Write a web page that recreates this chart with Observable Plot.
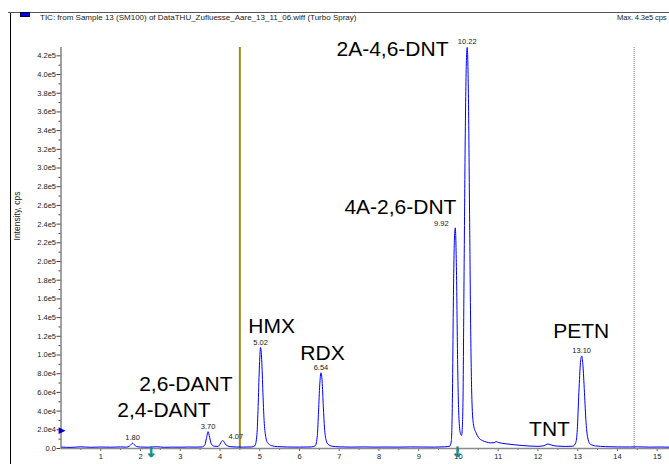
<!DOCTYPE html>
<html>
<head>
<meta charset="utf-8">
<script src="https://cdn.jsdelivr.net/npm/d3@7"></script>
<script src="https://cdn.jsdelivr.net/npm/@observablehq/plot@0.6"></script>
<style>
  html, body { margin: 0; padding: 0; background: #fff; }
  #wrap { position: relative; width: 669px; height: 464px; overflow: hidden; font-family: "Liberation Sans", Arial, sans-serif; }
  #wrap svg { position: absolute; left: 0; top: 0; }
  .ov { position: absolute; }
</style>
</head>
<body>
<div id="wrap"></div>
<script>
// ---- chromatogram trace (retention time in min, intensity in cps) ----
const times = [
  0.02, 0.25, 0.5, 0.75, 1.0, 1.25, 1.5, 1.65, 1.72, 1.77, 1.80, 1.84, 1.9, 2.0, 2.2, 2.4, 2.6, 2.8,
  3.0, 3.2, 3.4, 3.55, 3.62, 3.66, 3.70, 3.74, 3.78, 3.85, 3.95, 4.0, 4.04, 4.07, 4.11, 4.16, 4.25,
  4.4, 4.6, 4.8, 4.88, 4.93, 4.96, 4.99, 5.02, 5.05, 5.08, 5.11, 5.15, 5.2, 5.3, 5.45, 5.7, 6.0, 6.3,
  6.40, 6.45, 6.48, 6.51, 6.54, 6.57, 6.60, 6.63, 6.67, 6.72, 6.82, 7.0, 7.3, 7.6, 7.9, 8.2, 8.5, 8.8,
  9.1, 9.4, 9.65, 9.78, 9.82, 9.85, 9.87, 9.90, 9.92, 9.95, 9.98, 10.01, 10.05, 10.08, 10.11, 10.14,
  10.17, 10.20, 10.22, 10.25, 10.28, 10.31, 10.34, 10.38, 10.44, 10.5, 10.6, 10.7, 10.8, 10.9, 10.95,
  11.0, 11.2, 11.4, 11.6, 11.8, 12.0, 12.15, 12.25, 12.35, 12.5, 12.7, 12.88, 12.95, 12.99, 13.03,
  13.07, 13.10, 13.13, 13.17, 13.21, 13.26, 13.32, 13.45, 13.7, 14.0, 14.3, 14.5, 14.8, 15.1, 15.3
];
const intensity = [
  1500, 1200, 1800, 1300, 1600, 1400, 1700, 1500, 2500, 4500, 5700, 4200, 2200, 1600, 1400, 1900, 1300, 1500,
  1400, 1600, 1500, 1700, 4000, 11000, 18000, 12000, 5000, 2500, 2200, 4500, 7500, 8500, 6500, 3500, 2000,
  1600, 1500, 1700, 3000, 15000, 45000, 85000, 108000, 95000, 60000, 30000, 13000, 6000, 3000, 2000, 1600, 1500, 1700,
  3000, 14000, 40000, 68000, 81000, 72000, 45000, 22000, 9000, 4500, 2500, 1800, 1500, 1700, 1500, 1600, 1500, 1700,
  1600, 1500, 1800, 2500, 8000, 60000, 150000, 225000, 236000, 190000, 90000, 35000, 16000, 14000, 40000, 180000,
  330000, 415000, 429000, 380000, 250000, 120000, 50000, 25000, 17000, 12000, 8500, 7000, 6000, 6200, 7500,
  6500, 5000, 4000, 3200, 2600, 2300, 3000, 4800, 3500, 2500, 2200, 2500, 6000, 20000, 60000,
  92000, 99000, 90000, 60000, 28000, 10000, 4500, 2800, 2000, 1700, 1600, 1800, 1500, 1600, 1400
];

// ---- peak apex labels ----
const peakTimes   = [1.80, 3.70, 4.07, 5.02, 6.54, 9.92, 10.22, 13.10];
const peakHeights = [5700, 18000, 8500, 108000, 81000, 236000, 429000, 99000];
const peakLabels  = ["1.80", "3.70", "4.07", "5.02", "6.54", "9.92", "10.22", "13.10"];

// ---- compound names (anchored in time / intensity units) ----
const compounds      = ["2,4-DANT", "2,6-DANT", "HMX", "RDX", "4A-2,6-DNT", "2A-4,6-DNT", "TNT", "PETN"];
const compoundTime   = [2.59, 3.14, 5.30, 6.58, 8.54, 8.34, 12.29, 13.09];
const compoundLevel  = [41400, 69200, 131200, 102300, 258500, 427500, 21100, 125900];

// ---- axes ----
const xTicks = [1, 2, 3, 4, 5, 6, 7, 8, 9, 10, 11, 12, 13, 14, 15];
const xMinorTicks = [0.5, 1.5, 2.5, 3.5, 4.5, 5.5, 6.5, 7.5, 8.5, 9.5, 10.5, 11.5, 12.5, 13.5, 14.5];
const yTicks = [0, 20000, 40000, 60000, 80000, 100000, 120000, 140000, 160000, 180000, 200000, 220000,
  240000, 260000, 280000, 300000, 320000, 340000, 360000, 380000, 400000, 420000];
const yMinorTicks = [10000, 30000, 50000, 70000, 90000, 110000, 130000, 150000, 170000, 190000, 210000,
  230000, 250000, 270000, 290000, 310000, 330000, 350000, 370000, 390000, 410000];

// ---- markers ----
const periodStart = [4.5];     // olive vertical line
const periodEnd = [14.42];     // dotted vertical line
const arrowTimes = [2.27, 9.97];
const thresholdLevel = [20000];

const titleText = "TIC: from Sample 13 (SM100) of DataTHU_Zufluesse_Aare_13_11_06.wiff (Turbo Spray)";
const maxText = "Max. 4.3e5 cps";
const yLabel = "Intensity, cps";

const trace = times.map((t, i) => ({t, v: intensity[i]}));
const peaks = peakTimes.map((t, i) => ({t, v: peakHeights[i], label: peakLabels[i]}));
const names = compounds.map((n, i) => ({name: n, t: compoundTime[i], v: compoundLevel[i]}));

const fmt = v => {
  if (v === 0) return "0.0";
  const e = Math.floor(Math.log10(v) + 1e-9);
  return (v / Math.pow(10, e)).toFixed(1) + "e" + e;
};

const font = "Liberation Sans, Arial, sans-serif";

const chart = Plot.plot({
  width: 669,
  height: 464,
  marginLeft: 60.5,
  marginRight: 0,
  marginTop: 47,
  marginBottom: 16,
  x: {domain: [0, 15.31]},
  y: {domain: [0, 428900]},
  style: {fontFamily: font, background: "transparent", color: "#222"},
  marks: [
    Plot.axisY({ticks: yTicks, tickFormat: fmt, tickSize: 4, tickPadding: 1, fontSize: 7.5, label: null, stroke: "#444"}),
    Plot.axisY({ticks: yMinorTicks, tickSize: 2, text: null, label: null, stroke: "#444"}),
    Plot.axisX({ticks: xTicks, tickSize: 3, tickPadding: 2, fontSize: 7.5, label: null, stroke: "#666", tickFormat: d => String(d)}),
    Plot.axisX({ticks: xMinorTicks, tickSize: 2, text: null, label: null, stroke: "#666"}),
    Plot.ruleX([0], {stroke: "#444", strokeWidth: 1}),
    Plot.ruleY([0], {stroke: "#8a8a8a", strokeWidth: 1.6}),
    Plot.ruleX(periodStart, {stroke: "#9a8a20", strokeWidth: 2}),
    Plot.ruleX(periodEnd, {stroke: "#777", strokeWidth: 1, strokeDasharray: "1,1"}),
    Plot.line(trace, {x: "t", y: "v", stroke: "#0000ff", strokeWidth: 1, curve: "monotone-x"}),
    Plot.text(peaks.filter(d => d.label !== "4.07" && d.label !== "9.92"), {x: "t", y: "v", text: "label", lineAnchor: "bottom", dy: -3, fontSize: 7.5, fill: "#222"}),
    Plot.text(peaks.filter(d => d.label === "4.07"), {x: "t", y: "v", text: "label", lineAnchor: "bottom", dx: 13, dy: -2, fontSize: 7.5, fill: "#222"}),
    Plot.text(peaks.filter(d => d.label === "9.92"), {x: "t", y: "v", text: "label", lineAnchor: "bottom", dx: -14, dy: -2, fontSize: 7.5, fill: "#222"}),
    Plot.text(names, {x: "t", y: "v", text: "name", fontSize: 21, fill: "#000"}),
    Plot.text(arrowTimes, {x: d => d, frameAnchor: "bottom", text: () => "↓", dy: 8, fill: "#138a8a", fontSize: 14, fontWeight: "bold", fontFamily: "DejaVu Sans", stroke: "#138a8a", strokeWidth: 0.6}),
    Plot.text(thresholdLevel, {y: d => d, frameAnchor: "left", text: () => "▶", dx: -2.5, fill: "#0000cc", fontSize: 9, fontFamily: "DejaVu Sans"}),
    Plot.text([yLabel], {y: () => 222500, frameAnchor: "left", text: d => d, rotate: -90, dx: -44, fontSize: 8.5, fill: "#222"})
  ]
});

const wrap = document.getElementById("wrap");
wrap.appendChild(chart);

function ov(style, text) {
  const d = document.createElement("div");
  d.className = "ov";
  Object.assign(d.style, style);
  if (text) d.textContent = text;
  wrap.appendChild(d);
}
ov({left: "10px", top: "12px", width: "1px", height: "452px", background: "#000"});
ov({left: "8px", top: "12px", width: "661px", height: "1px", background: "#555"});
ov({left: "20px", top: "12px", width: "10px", height: "5px", background: "#0000e6", border: "0.5px solid #000040", boxSizing: "border-box"});
ov({left: "40px", top: "13px", fontSize: "8px", lineHeight: "9px", color: "#222", whiteSpace: "nowrap"}, titleText);
ov({left: "617px", top: "13px", fontSize: "7.6px", lineHeight: "9px", letterSpacing: "-0.15px", color: "#222", whiteSpace: "nowrap"}, maxText);
</script>
</body>
</html>
